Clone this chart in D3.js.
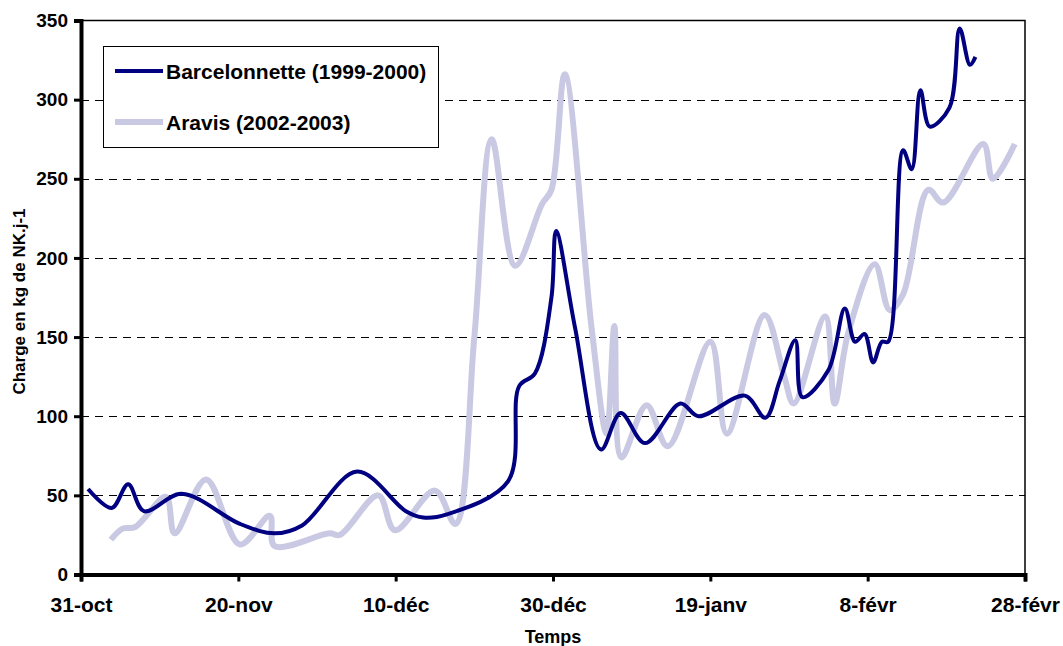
<!DOCTYPE html>
<html>
<meta charset="utf-8">

<head>
    <style>
        body {
            margin: 0;
            background: #fff;
        }

        text {
            font-family: "Liberation Sans", Arial, sans-serif;
            font-weight: bold;
        }

        .grid line {
            stroke: #000;
            stroke-width: 1;
            stroke-dasharray: 8, 6;
            shape-rendering: crispEdges;
        }
    </style>
</head>

<body>
    <script src="https://d3js.org/d3.v7.min.js"></script>

    <script>
        // x ticks: days after 31-oct
        var tickDays = [0, 20, 40, 60, 80, 100, 120];
        var tickLabels = ["31-oct", "20-nov", "10-déc", "30-déc", "19-janv", "8-févr", "28-févr"];
        var yTicks = [0, 50, 100, 150, 200, 250, 300, 350];

        // Barcelonnette (1999-2000)
        var barcDays = [0.9, 3.9, 6, 8, 12.8, 20.2, 24.6, 28.1, 35.1, 41.3, 43.5, 46.5, 54.3, 55.7, 57.7, 59.8,
            60.4, 62.8, 66.1, 68.6, 71.7, 76.2, 78.5, 84.4, 87, 88.8, 90.8, 91.7, 95, 97.1, 98.4, 99.6, 100.7,
            101.8, 102.6, 104.5, 105.6, 106.7, 107.9, 110.4, 111.7, 113, 113.7];
        var barcValues = [54, 42, 57, 40, 51, 32, 26, 31, 65, 40, 36, 38, 59, 119, 127, 175,
            217, 156, 79, 102, 83, 108, 100, 113, 99, 122, 148, 112, 129, 168, 147, 152, 134,
            147, 147, 268, 256, 306, 283, 295, 345, 322, 327];

        // Aravis (2002-2003)
        var aravDays = [3.8, 5.3, 6.9, 10.8, 11.9, 15.9, 20.2, 24, 24.6, 31.6, 32.9, 37.8, 39.9, 45, 47.6, 50,
            52.2, 55.2, 58.6, 59.8, 61.5, 64.9, 66.8, 67.8, 68.7, 71.9, 74.6, 80, 82.1, 86.9, 89.4, 90.6,
            94.6, 95.8, 97.5, 100.9, 102.8, 104.5, 107.7, 109.6, 114.7, 115.9, 118.7];
        var aravValues = [22, 29, 30, 49, 26, 60, 19, 37, 18, 26, 25, 50, 28, 53, 32, 150,
            275, 195, 234, 243, 316, 156, 89, 157, 74, 107, 81, 147, 89, 164, 125, 108,
            163, 108, 152, 196, 167, 177, 243, 235, 272, 250, 272];

        var seriesNames = ["Barcelonnette (1999-2000)", "Aravis (2002-2003)"];

        var W = 1063, H = 646;
        var plotLeft = 81, plotRight = 1025, plotTop = 20.5, plotBottom = 574.5;

        var svg = d3.select("body")
            .append("svg")
            .attr("width", W)
            .attr("height", H);

        // scales
        var x = d3.scaleLinear().domain([0, 120]).range([plotLeft, plotRight]);
        var y = d3.scaleLinear().domain([0, 350]).range([plotBottom, plotTop]);

        // dashed gridlines
        svg.append("g")
            .attr("class", "grid")
            .selectAll("line")
            .data(yTicks.filter(function (d) { return d > 0 && d < 350; }))
            .join("line")
            .attr("x1", plotLeft)
            .attr("x2", plotRight)
            .attr("y1", function (d) { return Math.round(y(d)) + 0.5; })
            .attr("y2", function (d) { return Math.round(y(d)) + 0.5; });

        // top and right border
        svg.append("path")
            .attr("d", "M" + plotLeft + "," + plotTop + "H" + plotRight + "V" + plotBottom)
            .attr("fill", "none")
            .attr("stroke", "#000")
            .attr("stroke-width", 1.5);

        // lines
        var line = d3.line()
            .x(function (d) { return x(d[0]); })
            .y(function (d) { return y(d[1]); })
            .curve(d3.curveCatmullRom.alpha(0.5));

        var barc = d3.zip(barcDays, barcValues);
        var arav = d3.zip(aravDays, aravValues);

        svg.append("path")
            .datum(arav)
            .attr("d", line)
            .attr("fill", "none")
            .attr("stroke", "#c9c9e3")
            .attr("stroke-width", 6)
            .attr("stroke-linejoin", "round");

        svg.append("path")
            .datum(barc)
            .attr("d", line)
            .attr("fill", "none")
            .attr("stroke", "#000080")
            .attr("stroke-width", 4)
            .attr("stroke-linejoin", "round");

        // axes
        var xAxis = d3.axisBottom(x)
            .tickValues(tickDays)
            .tickFormat(function (d, i) { return tickLabels[i]; })
            .tickSize(7)
            .tickPadding(16);
        var yAxis = d3.axisLeft(y)
            .tickValues(yTicks)
            .tickSize(7)
            .tickPadding(6);

        var gx = svg.append("g")
            .attr("transform", "translate(0," + plotBottom + ")")
            .call(xAxis);
        gx.select(".domain").attr("stroke-width", 4);
        gx.selectAll(".tick line").attr("stroke-width", 3);
        gx.selectAll("text")
            .attr("fill", "#000")
            .style("font-size", "21px");

        var gy = svg.append("g")
            .attr("transform", "translate(" + plotLeft + ",0)")
            .call(yAxis);
        gy.select(".domain").attr("stroke-width", 4);
        gy.selectAll(".tick line").attr("stroke-width", 3);
        gy.selectAll("text")
            .attr("fill", "#000")
            .style("font-size", "19px");

        // axis titles
        svg.append("text")
            .attr("x", 553)
            .attr("y", 643)
            .attr("text-anchor", "middle")
            .style("font-size", "18px")
            .text("Temps");

        svg.append("text")
            .attr("transform", "translate(25,301.5) rotate(-90)")
            .attr("text-anchor", "middle")
            .style("font-size", "17px")
            .text("Charge en kg de NK.j-1");

        // legend
        var lg = svg.append("g");
        lg.append("rect")
            .attr("x", 103.5)
            .attr("y", 46.5)
            .attr("width", 335)
            .attr("height", 101)
            .attr("fill", "#fff")
            .attr("stroke", "#000")
            .attr("stroke-width", 1);

        var legendColors = ["#000080", "#c9c9e3"];
        var legendWidths = [4, 6];
        var legendY = [71, 122];

        seriesNames.forEach(function (name, i) {
            lg.append("line")
                .attr("x1", 115)
                .attr("x2", 163)
                .attr("y1", legendY[i])
                .attr("y2", legendY[i])
                .attr("stroke", legendColors[i])
                .attr("stroke-width", legendWidths[i]);
            lg.append("text")
                .attr("x", 166)
                .attr("y", legendY[i] + 7.5)
                .style("font-size", "21px")
                .text(name);
        });
    </script>

</body>

</html>
